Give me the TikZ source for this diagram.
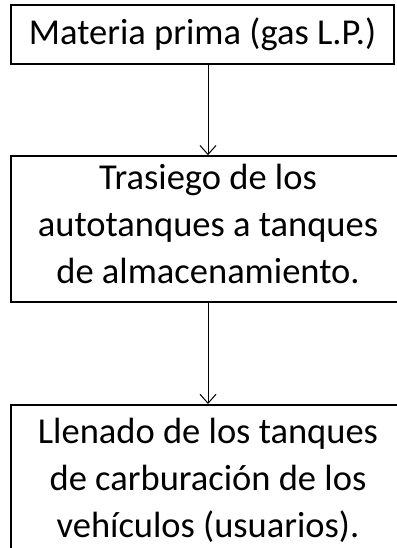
\documentclass[tikz,border=0pt]{standalone}
\usepackage{fontspec}
\setmainfont{Carlito}
\usetikzlibrary{arrows.meta}
\begin{document}
\begin{tikzpicture}[x=1pt,y=-1pt,
  boxline/.style={draw,line width=1.6pt},
  txt/.style={inner sep=0pt,align=center,font=\fontsize{36.5}{47}\selectfont},
  flow/.style={line width=1pt,-{Straight Barb[length=9pt,width=16pt,line width=1pt]}}]
\useasboundingbox (0,0) rectangle (396,548);
\node[boxline,txt,minimum width=383pt,minimum height=59pt] (a) at (202.5,34.5) {Materia prima (gas L.P.)};
\node[boxline,minimum width=394pt,minimum height=146pt,inner sep=0pt] (b) at (208,229) {};
\node[txt] (bt) at (208,224) {Trasiego de los\\autotanques a tanques\\de almacenamiento.};
\node[boxline,minimum width=394pt,minimum height=200pt,inner sep=0pt,anchor=north] (c) at (208,404) {};
\node[txt] (ct) at (208,480) {Llenado de los tanques\\de carburación de los\\vehículos (usuarios).};
\draw[flow] (a.south -| b.north) -- (b.north);
\draw[flow] (b.south) -- (c.north);
\end{tikzpicture}
\end{document}
